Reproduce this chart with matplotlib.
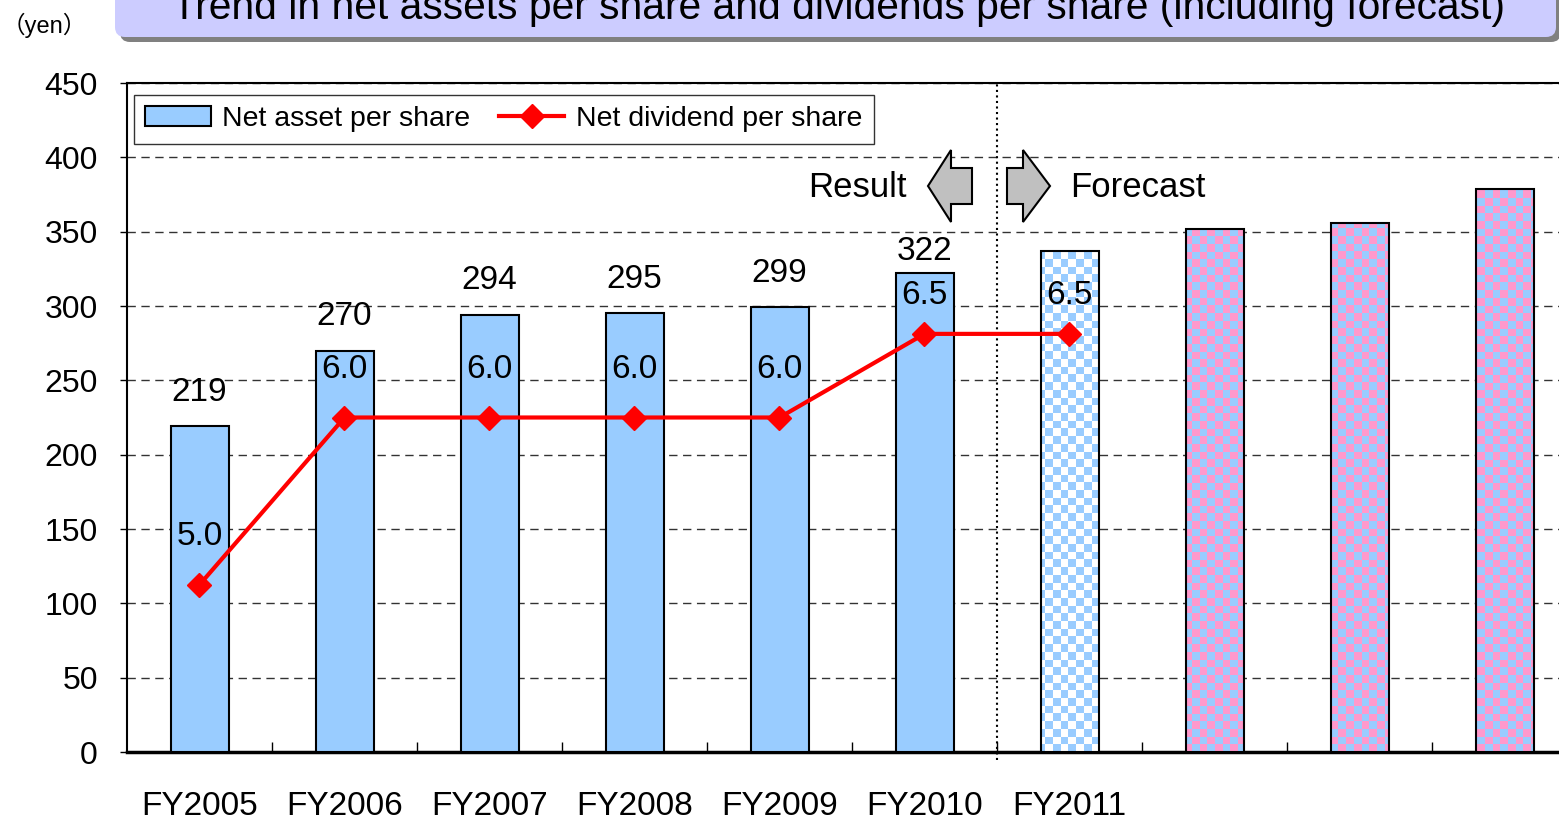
import numpy as np
import matplotlib
matplotlib.use('Agg')
import matplotlib.pyplot as plt
from matplotlib.patches import FancyBboxPatch, Polygon
from matplotlib.colors import ListedColormap

plt.rcParams['font.family'] = ['Liberation Sans', 'Noto Sans CJK JP', 'DejaVu Sans']

# data
years = ['FY2005', 'FY2006', 'FY2007', 'FY2008', 'FY2009', 'FY2010', 'FY2011', '', '', '']
net_assets = [219, 270, 294, 295, 299, 322, 337, 352, 356, 379]
dividends = [5.0, 6.0, 6.0, 6.0, 6.0, 6.5, 6.5]
n_result = 6          # FY2005..FY2010 are results, the rest forecast
yticks = [0, 50, 100, 150, 200, 250, 300, 350, 400, 450]

title = 'Trend in net assets per share and dividends per share (including forecast)'

blue = '#99CCFF'
pink = '#FF99CC'

# label lifts in points (the original nudged the FY2010/FY2011 labels down a bit)
bar_lift = [24.5, 24.5, 24.5, 24.5, 24.5, 16]
div_lift = [35, 34.5, 34.5, 34.5, 34.5, 27.5, 27.5]

W, H = 1559, 821
fig = plt.figure(figsize=(W/100, H/100), dpi=100)
ax = fig.add_axes([127/W, (H-752)/H, 1450/W, 669/H])

x = np.arange(len(net_assets))
faces = [blue if i < n_result else 'none' for i in x]
bars = ax.bar(x, net_assets, width=0.4, color=faces, edgecolor='black',
              linewidth=1.5, zorder=3, label='Net asset per share')

# checkered fill for forecast bars
nx, ny = 188, 87
checker = (np.indices((ny, nx)).sum(axis=0) % 2)
for i, b in enumerate(bars):
    if i < n_result:
        continue
    second = 'white' if i == n_result else pink
    im = ax.imshow(checker, cmap=ListedColormap([blue, second]), extent=(-0.5, 9.5, 0, 450),
                   origin='lower', aspect='auto', interpolation='nearest', zorder=2.9)
    im.set_clip_path(b)

for i in range(n_result):
    ax.annotate(str(net_assets[i]), (x[i], net_assets[i]), xytext=(0, bar_lift[i]),
                textcoords='offset points', ha='center', va='center', fontsize=24, zorder=5)

ax.set_xlim(-0.5, 9.5)
ax.set_ylim(0, 450)
ax.set_yticks(yticks)
ax.set_xticks(x)
ax.set_xticklabels(years)
ax.set_xticks(x[:-1] + 0.5, minor=True)
ax.tick_params(axis='x', which='major', length=0, pad=28, labelsize=24)
ax.tick_params(axis='x', which='minor', direction='in', length=7, width=1)
ax.tick_params(axis='y', direction='out', length=5, width=1, pad=16, labelsize=23)
ax.grid(axis='y', color='#333333', linestyle=(0, (6, 4)), linewidth=1, zorder=1)
ax.set_axisbelow(True)
ax.spines['left'].set_linewidth(1.5)
ax.spines['top'].set_linewidth(1.5)
ax.spines['bottom'].set_linewidth(2.5)

# result / forecast divider
ax.axvline(5.5, ymin=-0.012, ymax=1, color='black', linestyle=':', linewidth=1.5,
           clip_on=False, zorder=4)

ax2 = ax.twinx()
ax2.set_ylim(4, 8)
ax2.set_axis_off()
ln, = ax2.plot(x[:len(dividends)], dividends, color='#FF0000', linewidth=3, marker='D',
               markersize=12, label='Net dividend per share')
for i, v in enumerate(dividends):
    ax2.annotate('%.1f' % v, (x[i], v), xytext=(0, div_lift[i]), textcoords='offset points',
                 ha='center', va='center', fontsize=24)

leg = ax.legend([bars, ln], ['Net asset per share', 'Net dividend per share'],
                loc='upper left', bbox_to_anchor=(7/1450, 1-12/669), borderaxespad=0,
                ncol=2, fontsize=20.5, frameon=True, fancybox=False, edgecolor='black',
                handlelength=2.3, handletextpad=0.4, columnspacing=1.0, borderpad=0.4)
leg.get_frame().set_linewidth(1)
leg.set_zorder(10)

# figure decorations, positioned in inches from the bottom-left corner
tr = fig.dpi_scale_trans
def px(xp, yp):
    return (xp/100, (H-yp)/100)

shadow = FancyBboxPatch((1.20, 7.79), 14.41, 0.8, boxstyle='round,pad=0,rounding_size=0.1',
                        transform=tr, facecolor='#808080', edgecolor='none')
box = FancyBboxPatch((1.15, 7.84), 14.41, 0.8, boxstyle='round,pad=0,rounding_size=0.1',
                     transform=tr, facecolor='#CCCCFF', edgecolor='none')
fig.patches.extend([shadow, box])
fig.text(*px(838, 19), title, transform=tr, ha='center', va='baseline', fontsize=29.3)
fig.text(*px(44, 25), '（yen）', transform=tr, ha='center', va='center', fontsize=17)

left_arrow = [(928, 186), (951, 150), (951, 168), (972, 168), (972, 204), (951, 204), (951, 222)]
right_arrow = [(1050, 186), (1023, 150), (1023, 168), (1007, 168), (1007, 204), (1023, 204), (1023, 222)]
for pts in [left_arrow, right_arrow]:
    fig.patches.append(Polygon([px(a, b) for a, b in pts], closed=True, transform=tr,
                               facecolor='#C0C0C0', edgecolor='black', linewidth=1.5))
fig.text(*px(857, 187), 'Result', transform=tr, ha='center', va='center', fontsize=25)
fig.text(*px(1138, 187), 'Forecast', transform=tr, ha='center', va='center', fontsize=25)

plt.savefig('out.png', dpi=100)
